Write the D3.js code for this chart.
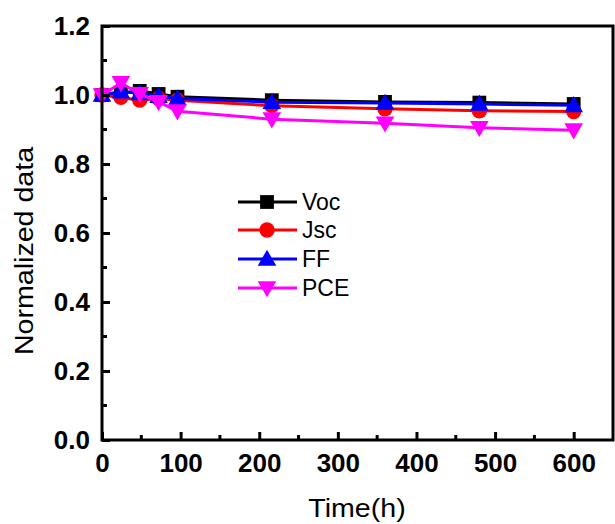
<!DOCTYPE html>
<html><head><meta charset="utf-8">
<script src="https://cdn.jsdelivr.net/npm/d3@7"></script>
<style>
html,body{margin:0;padding:0;background:#fff;}
text{font-family:Arial,"Liberation Sans",sans-serif;}
</style></head>
<body>
<svg id="c" width="615" height="524"></svg>
<script>
const times = [0, 24, 48, 72, 96, 216, 360, 480, 600];
const voc = [1.0, 1.005, 1.012, 1.003, 0.995, 0.985, 0.98, 0.978, 0.974];
const jsc = [1.0, 0.993, 0.985, 0.99, 0.985, 0.969, 0.96, 0.954, 0.952];
const ff  = [1.0, 1.01, 1.005, 0.997, 0.99, 0.979, 0.977, 0.974, 0.97];
const pce = [1.0, 1.035, 1.003, 0.98, 0.953, 0.93, 0.918, 0.905, 0.898];
const seriesNames = ["Voc", "Jsc", "FF", "PCE"];
const seriesColors = ["#000000", "#FF0000", "#0000FF", "#FF00FF"];
const xTicks = [0, 100, 200, 300, 400, 500, 600];
const yTicks = [0.0, 0.2, 0.4, 0.6, 0.8, 1.0, 1.2];
const xTitle = "Time(h)";
const yTitle = "Normalized data";

const series = [voc, jsc, ff, pce];
const svg = d3.select("#c");
const L = 102, R = 613, T = 26, B = 440;
const x = d3.scaleLinear().domain([0, 650]).range([L, R]);
const y = d3.scaleLinear().domain([0, 1.2]).range([B, T]);

const sym = [
  d3.symbol().type(d3.symbolSquare).size(190),
  d3.symbol().type(d3.symbolCircle).size(185),
  d3.symbol().type(d3.symbolTriangle).size(150),
  d3.symbol().type(d3.symbolTriangle).size(150)
];
const rot = [0, 0, 0, 180];
const dy = [0, 0, 1.5, -1.5];

// data
const line = d3.line().x((d, i) => x(times[i])).y(d => y(d));
series.forEach((s, k) => {
  const g = svg.append("g");
  g.append("path").attr("d", line(s)).attr("fill", "none")
    .attr("stroke", seriesColors[k]).attr("stroke-width", 3);
  g.selectAll("path.m").data(s).enter().append("path").attr("class", "m")
    .attr("d", sym[k]())
    .attr("transform", (d, i) => `translate(${x(times[i])},${y(d) + dy[k]}) rotate(${rot[k]})`)
    .attr("fill", seriesColors[k]);
});

// frame
svg.append("rect").attr("x", L).attr("y", T).attr("width", R - L).attr("height", B - T)
  .attr("fill", "none").attr("stroke", "#000").attr("stroke-width", 3);

// axes with inward ticks
const xAxis = d3.axisBottom(x).tickValues(xTicks).tickSizeInner(-8).tickSizeOuter(0).tickPadding(14).tickFormat(d3.format("d"));
const gx = svg.append("g").attr("transform", `translate(0,${B})`).call(xAxis);
const yAxis = d3.axisLeft(y).tickValues(yTicks).tickSizeInner(-8).tickSizeOuter(0).tickPadding(12).tickFormat(d3.format(".1f"));
const gy = svg.append("g").attr("transform", `translate(${L},0)`).call(yAxis);
[gx, gy].forEach(g => {
  g.select(".domain").remove();
  g.selectAll(".tick line").attr("stroke", "#000").attr("stroke-width", 3);
  g.selectAll(".tick text").attr("fill", "#000").style("font-size", "26px").style("font-weight", "bold");
});
// minor ticks
const xMinor = d3.range(50, 650, 100);
svg.append("g").selectAll("line").data(xMinor).enter().append("line")
  .attr("x1", d => x(d)).attr("x2", d => x(d)).attr("y1", B).attr("y2", B - 5)
  .attr("stroke", "#000").attr("stroke-width", 3);
const yMinor = [0.1, 0.3, 0.5, 0.7, 0.9, 1.1];
svg.append("g").selectAll("line").data(yMinor).enter().append("line")
  .attr("y1", d => y(d)).attr("y2", d => y(d)).attr("x1", L).attr("x2", L + 5)
  .attr("stroke", "#000").attr("stroke-width", 3);

// titles
svg.append("text").attr("transform", "translate(357,517) scale(1.1,1)").attr("text-anchor", "middle")
  .style("font-size", "26px").text(xTitle);
svg.append("text").attr("transform", "translate(33,251) rotate(-90) scale(1.1,1)").attr("text-anchor", "middle")
  .style("font-size", "26px").text(yTitle);

// legend
const legY = [202, 230, 259, 288];
const lg = svg.append("g");
seriesNames.forEach((n, k) => {
  lg.append("line").attr("x1", 238).attr("x2", 297).attr("y1", legY[k]).attr("y2", legY[k])
    .attr("stroke", seriesColors[k]).attr("stroke-width", 3);
  lg.append("path").attr("d", sym[k]())
    .attr("transform", `translate(267,${legY[k] + dy[k]}) rotate(${rot[k]})`)
    .attr("fill", seriesColors[k]);
  lg.append("text").attr("x", 302).attr("y", legY[k] + 8).style("font-size", "23px").text(n);
});
</script>
</body></html>
